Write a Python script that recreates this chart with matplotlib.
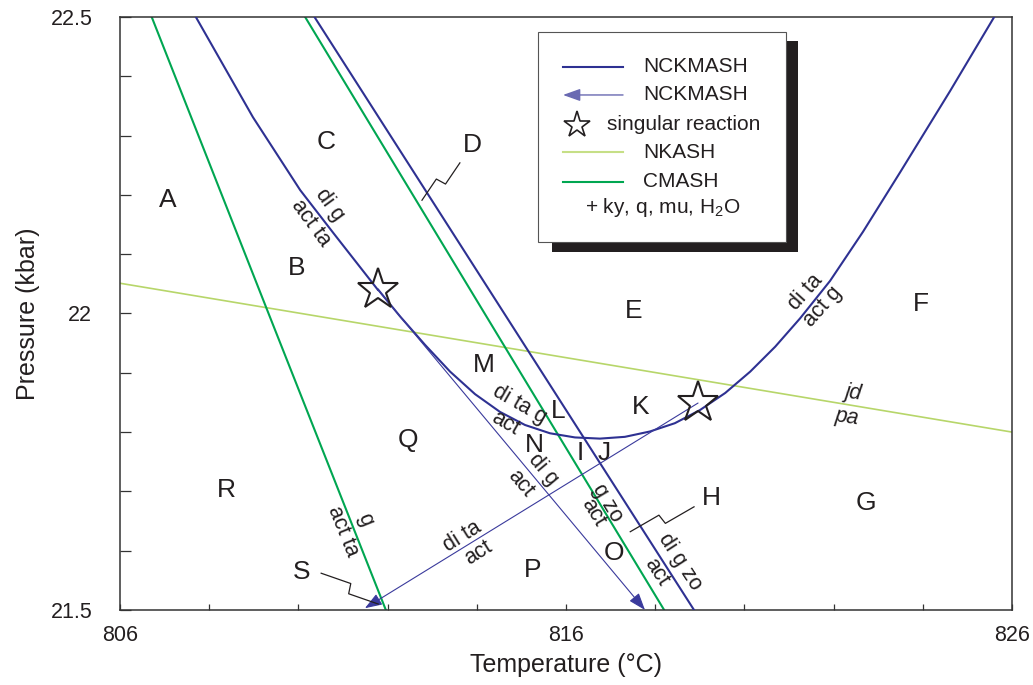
import matplotlib
matplotlib.use("Agg")
import matplotlib.pyplot as plt
import numpy as np
from matplotlib.patches import Rectangle
from matplotlib.ticker import MultipleLocator, FixedLocator

plt.rcParams["font.family"] = ["Liberation Sans", "DejaVu Sans"]
plt.rcParams["mathtext.fontset"] = "custom"
plt.rcParams["mathtext.rm"] = "Liberation Sans"

NCK = "#2e3192"
NCK_THIN = "#3a3a9c"
CMASH = "#00a651"
NKASH = "#b7d66a"
INK = "#231f20"

# ---- data (T in deg C, P in kbar) ----
# NCKMASH: di g = act ta, from top to first singular point
dig_T = [807.70, 808.98, 810.04, 810.78, 811.78]
dig_P = [22.500, 22.331, 22.208, 22.136, 22.040]

# NCKMASH: U-shaped di ta g = act / di ta = act g
u_T = [811.79, 812.28, 812.84, 813.40, 813.96, 814.52, 815.08, 815.64, 816.20,
       816.76, 817.32, 817.88, 818.44, 819.00, 819.57, 820.13, 820.69, 821.25,
       821.92, 822.66, 823.49, 824.61, 825.60]
u_P = [22.040, 21.995, 21.947, 21.902, 21.864, 21.834, 21.812, 21.798, 21.791,
       21.789, 21.792, 21.801, 21.815, 21.837, 21.866, 21.902, 21.944, 21.992,
       22.055, 22.138, 22.238, 22.375, 22.500]

# NCKMASH: di g zo = act
dgz_T = [810.36, 818.87]
dgz_P = [22.5, 21.5]

# metastable NCKMASH (arrowed)
arr1_T = [811.78, 817.77]
arr1_P = [22.040, 21.500]
arr2_T = [818.96, 811.49]
arr2_P = [21.849, 21.503]

# CMASH
cm1_T = [806.71, 809.33, 811.96]
cm1_P = [22.5, 22.0, 21.5]
cm2_T = [810.15, 818.20]
cm2_P = [22.5, 21.5]

# NKASH jd = pa
nk_T = [806.0, 826.0]
nk_P = [22.051, 21.800]

# singular reactions
star_T = [811.78, 818.96]
star_P = [22.040, 21.849]

# field labels
fields = ["A", "B", "C", "D", "E", "F", "G", "H", "I", "J",
          "K", "L", "M", "N", "O", "P", "Q", "R", "S"]
field_T = [807.08, 809.97, 810.62, 813.91, 817.52, 823.96, 822.73, 819.25, 816.31, 816.85,
           817.68, 815.82, 814.16, 815.28, 817.08, 815.26, 812.46, 808.38, 810.08]
field_P = [22.191, 22.077, 22.289, 22.284, 22.004, 22.016, 21.680, 21.689, 21.765, 21.765,
           21.842, 21.836, 21.913, 21.778, 21.596, 21.567, 21.787, 21.702, 21.564]

# reaction labels: text, T, P, rotation, italic
rx_text = ["di g", "act ta", "di ta g", "act", "di g", "act", "g zo", "act",
           "di g zo", "act", "g", "act ta", "di ta", "act", "di ta", "act g",
           "jd", "pa"]
rx_T = [810.70, 810.28, 814.97, 814.63, 815.48, 814.97, 816.94, 816.61,
        818.56, 818.04, 811.49, 811.00, 813.67, 814.03, 821.36, 821.76,
        822.43, 822.30]
rx_P = [22.183, 22.153, 21.846, 21.815, 21.736, 21.714, 21.680, 21.664,
        21.581, 21.564, 21.652, 21.632, 21.623, 21.596, 22.036, 22.011,
        21.866, 21.825]
rx_rot = [-54, -54, -30, -30, -50, -50, -59, -59,
          -57, -57, -68, -68, 32, 32, 48, 48, -8, -8]
rx_ital = [False] * 16 + [True, True]

# leader lines (from end near line, to end near field letter)
lead_start = [(812.77, 22.191), (817.44, 21.632), (811.79, 21.510)]
lead_end = [(813.62, 22.254), (818.87, 21.674), (810.51, 21.562)]


def zigzag(ax, p0, p1, amp=5.0):
    """Leader line with a small lightning-style break in the middle."""
    to_disp = ax.transData.transform
    a = to_disp(p0)
    b = to_disp(p1)
    d = b - a
    u = d / np.hypot(*d)
    n = np.array([-u[1], u[0]])
    mid = (a + b) / 2
    pts = np.array([a, mid + n * amp - u * 1.5, mid - n * amp + u * 1.5, b])
    data = ax.transData.inverted().transform(pts)
    ax.plot(data[:, 0], data[:, 1], color=INK, lw=0.9, zorder=4)


fig = plt.figure(figsize=(10.33, 6.85), dpi=100)
ax = fig.add_axes([0.1162, 0.1095, 0.8635, 0.8657])
ax.set_xlim(806, 826)
ax.set_ylim(21.5, 22.5)

ax.plot(nk_T, nk_P, color=NKASH, lw=1.2, zorder=2)
ax.plot(cm1_T, cm1_P, color=CMASH, lw=1.5, zorder=2)
ax.plot(cm2_T, cm2_P, color=CMASH, lw=1.5, zorder=2)
ax.plot(dig_T, dig_P, color=NCK, lw=1.5, zorder=3, solid_joinstyle="round")
ax.plot(u_T, u_P, color=NCK, lw=1.5, zorder=3, solid_joinstyle="round")
ax.plot(dgz_T, dgz_P, color=NCK, lw=1.5, zorder=3)

for xs, ys in [(arr1_T, arr1_P), (arr2_T, arr2_P)]:
    ax.annotate("", xy=(xs[1], ys[1]), xytext=(xs[0], ys[0]),
                arrowprops=dict(arrowstyle="-|>,head_length=0.7,head_width=0.25",
                                color=NCK_THIN, lw=0.8, mutation_scale=15,
                                shrinkA=0, shrinkB=0), zorder=3)

ax.plot(star_T, star_P, linestyle="none", marker="*", markersize=31,
        markerfacecolor="none", markeredgecolor=INK, markeredgewidth=1.5, zorder=5)

for s, t, p in zip(fields, field_T, field_P):
    ax.text(t, p, s, fontsize=19, color=INK, ha="center", va="center", zorder=6)

for s, t, p, r, it in zip(rx_text, rx_T, rx_P, rx_rot, rx_ital):
    ax.text(t, p, s, fontsize=15.5, color=INK, ha="center", va="center",
            rotation=r, rotation_mode="anchor", style="italic" if it else "normal",
            zorder=6)

for p0, p1 in zip(lead_start, lead_end):
    zigzag(ax, p0, p1)

# axes styling
for sp in ax.spines.values():
    sp.set_color("#333333")
    sp.set_linewidth(1.1)
ax.xaxis.set_major_locator(FixedLocator([806, 816, 826]))
ax.xaxis.set_minor_locator(MultipleLocator(2))
ax.yaxis.set_major_locator(FixedLocator([21.5, 22.0, 22.5]))
ax.yaxis.set_minor_locator(MultipleLocator(0.1))
ax.set_xticklabels(["806", "816", "826"])
ax.set_yticklabels(["21.5", "22", "22.5"])
ax.tick_params(axis="x", which="both", direction="in", length=4.5, width=0.9,
               color="#333333", labelsize=15.5, pad=11, labelcolor=INK)
ax.tick_params(axis="y", which="both", direction="in", length=8, width=0.9,
               color="#333333", labelsize=15.5, pad=20, labelcolor=INK)
ax.text(0.5, -0.093, "Temperature (°C)", transform=ax.transAxes, fontsize=18,
        ha="center", va="center", color=INK)
ax.text(-0.103, 0.5, "Pressure (kbar)", transform=ax.transAxes, fontsize=18,
        ha="center", va="center", rotation=90, color=INK)

# legend box with drop shadow
ax.add_patch(Rectangle((0.4843, 0.6037), 0.2758, 0.3558, transform=ax.transAxes,
                       facecolor="#231f20", edgecolor="none", zorder=7))
ax.add_patch(Rectangle((0.4686, 0.6206), 0.2780, 0.3541, transform=ax.transAxes,
                       facecolor="white", edgecolor="#555555", lw=0.8, zorder=8))
lx0, lx1, tx = 0.4966, 0.5639, 0.5863
rows = [0.9157, 0.8685, 0.8179, 0.7723, 0.7218, 0.6779]
leg_kw = dict(transform=ax.transAxes, fontsize=15, color=INK, va="center", zorder=9)
ax.plot([lx0, lx1], [rows[0]] * 2, color=NCK, lw=1.5, transform=ax.transAxes, zorder=9)
ax.text(tx, rows[0], "NCKMASH", **leg_kw)
ax.annotate("", xy=(lx0, rows[1]), xytext=(lx1, rows[1]), xycoords="axes fraction",
            textcoords="axes fraction",
            arrowprops=dict(arrowstyle="-|>,head_length=0.7,head_width=0.25",
                            color="#6a6ab2", lw=1.0, mutation_scale=15,
                            shrinkA=0, shrinkB=0), zorder=9)
ax.text(tx, rows[1], "NCKMASH", **leg_kw)
ax.plot([0.5123], [rows[2]], marker="*", markersize=20, markerfacecolor="none",
        markeredgecolor=INK, markeredgewidth=1.2, transform=ax.transAxes, zorder=9)
ax.text(0.546, rows[2], "singular reaction", **leg_kw)
ax.plot([lx0, lx1], [rows[3]] * 2, color="#c6df86", lw=1.5, transform=ax.transAxes, zorder=9)
ax.text(tx, rows[3], "NKASH", **leg_kw)
ax.plot([lx0, lx1], [rows[4]] * 2, color=CMASH, lw=1.5, transform=ax.transAxes, zorder=9)
ax.text(tx, rows[4], "CMASH", **leg_kw)
ax.text(0.6088, rows[5], "+ ky, q, mu, H$_2$O", transform=ax.transAxes, fontsize=15,
        color=INK, va="center", ha="center", zorder=9)

fig.savefig("out.png", dpi=100)
